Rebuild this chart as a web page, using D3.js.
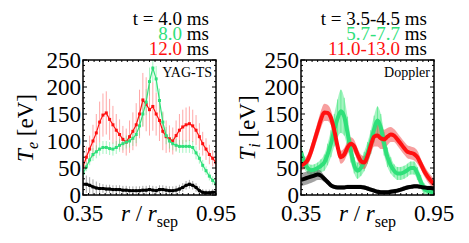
<!DOCTYPE html>
<html>
<head>
<meta charset="utf-8">
<script src="https://cdn.jsdelivr.net/npm/d3@7"></script>
<style>
  body { margin: 0; background: #fff; }
  svg text { font-family: 'Liberation Serif', 'DejaVu Serif', serif; }
</style>
</head>
<body>
<div id="chart"></div>
<script>
// r / r_sep grid (both diagnostics)
var rGrid = [0.35, 0.365, 0.38, 0.395, 0.41, 0.425, 0.44, 0.455, 0.47, 0.485,
  0.50, 0.515, 0.53, 0.545, 0.56, 0.575, 0.59, 0.605, 0.62, 0.635,
  0.65, 0.665, 0.68, 0.695, 0.71, 0.725, 0.74, 0.755, 0.77, 0.785,
  0.80, 0.815, 0.83, 0.845, 0.86, 0.875, 0.89, 0.905, 0.92, 0.935, 0.95];

// YAG-TS electron temperature [eV]
var te4 = [20, 20, 18, 15, 13, 12, 12, 11, 11, 10, 10, 10, 9, 9, 8, 8, 8, 8, 9, 9,
  10, 9, 8, 10, 10, 9, 8, 8, 9, 11, 14, 18, 20, 18, 14, 8, 5, 4, 4, 5, 5];
var te8 = [40, 52, 65, 75, 80, 85, 88, 88, 86, 85, 88, 92, 95, 98, 100, 105, 112, 128, 150, 172,
  210, 235, 215, 175, 135, 110, 100, 95, 92, 90, 90, 90, 90, 88, 78, 68, 55, 45, 35, 27, 20];
var te12 = [52, 70, 85, 100, 115, 135, 148, 152, 140, 130, 120, 112, 103, 98, 108, 118, 130, 150, 176, 168,
  158, 164, 150, 138, 118, 108, 104, 100, 110, 120, 126, 130, 132, 128, 120, 108, 95, 85, 75, 68, 60];
var teErr4 = [16, 16, 15, 14, 12, 10, 8, 8, 8, 8, 8, 8, 8, 8, 8, 8, 8, 8, 8, 8,
  8, 8, 8, 8, 8, 8, 8, 8, 8, 8, 8, 8, 8, 8, 8, 8, 6, 6, 6, 6, 6];
var teErr8 = [8, 8, 10, 12, 12, 12, 12, 12, 12, 12, 12, 12, 12, 12, 12, 14, 16, 18, 22, 24,
  26, 26, 24, 22, 20, 16, 14, 12, 12, 12, 12, 12, 12, 12, 12, 10, 10, 8, 8, 8, 8];
var teErr12 = [15, 20, 25, 30, 35, 38, 40, 40, 38, 35, 30, 28, 25, 25, 30, 35, 40, 45, 50, 50,
  48, 45, 40, 38, 35, 30, 25, 25, 28, 30, 32, 32, 32, 30, 28, 25, 22, 20, 18, 15, 12];

// Doppler ion temperature [eV]
var ti4 = [28, 30, 32, 34, 36, 38, 36, 30, 24, 18, 15, 14, 14, 14, 15, 15, 15, 15, 15, 14,
  12, 10, 8, 6, 5, 5, 5, 6, 7, 8, 10, 12, 14, 15, 16, 16, 15, 14, 13, 13, 12];
var ti7 = [80, 60, 50, 46, 47, 50, 54, 60, 75, 95, 120, 142, 155, 145, 115, 82, 55, 45, 50, 62,
  78, 98, 122, 138, 125, 95, 70, 55, 45, 40, 40, 42, 46, 50, 50, 40, 25, 12, 8, 6, 5];
var ti12 = [55, 58, 65, 80, 100, 120, 140, 153, 152, 143, 120, 90, 70, 75, 88, 95, 90, 75, 63, 60,
  72, 92, 108, 110, 105, 103, 108, 112, 110, 103, 95, 87, 80, 78, 76, 70, 58, 45, 35, 27, 20];
var tiErr4 = [12, 12, 12, 12, 11, 10, 8, 6, 5, 4, 4, 4, 4, 4, 4, 4, 4, 4, 4, 4,
  4, 4, 4, 4, 4, 4, 4, 4, 4, 4, 4, 4, 4, 4, 4, 4, 4, 4, 4, 4, 4];
var tiErr7 = [15, 12, 10, 10, 10, 10, 12, 15, 20, 25, 30, 35, 40, 35, 30, 22, 15, 15, 15, 18,
  20, 22, 25, 26, 25, 22, 18, 15, 12, 12, 12, 12, 12, 12, 12, 12, 12, 10, 8, 6, 5];
var tiErr12 = [10, 10, 10, 12, 14, 15, 16, 16, 15, 14, 12, 12, 12, 12, 12, 12, 12, 12, 12, 12,
  14, 16, 18, 20, 20, 18, 16, 14, 12, 12, 12, 12, 12, 12, 12, 12, 10, 10, 10, 10, 10];

var yTicks = [0, 50, 100, 150, 200, 250];
var xTickLabels = ['0.35', '0.95'];

var black = '#000';
var green = '#2fe07a';
var red = '#ff1010';

var svg = d3.select('#chart').append('svg')
  .attr('width', 469).attr('height', 243);

function drawPanel(opt) {
  var x = d3.scaleLinear().domain([0.35, 0.95]).range([opt.left, opt.left + 133]);
  var y = d3.scaleLinear().domain([0, 250]).range([195, 60]);

  var g = svg.append('g');
  var clipId = 'clip-' + opt.id;
  g.append('clipPath').attr('id', clipId)
    .append('rect')
    .attr('x', x.range()[0]).attr('y', y.range()[1])
    .attr('width', x.range()[1] - x.range()[0])
    .attr('height', y.range()[0] - y.range()[1]);

  var plotG = g.append('g').attr('clip-path', 'url(#' + clipId + ')');

  if (opt.mode === 'ts') {
    // error bars first
    opt.series.forEach(function(s) {
      plotG.append('g').selectAll('line').data(s.values).enter()
        .append('line')
        .attr('x1', function(d, i) { return x(rGrid[i]); })
        .attr('x2', function(d, i) { return x(rGrid[i]); })
        .attr('y1', function(d, i) { return y(d - s.err[i]); })
        .attr('y2', function(d, i) { return y(d + s.err[i]); })
        .attr('stroke', s.barColor)
        .attr('stroke-width', 1);
    });
    opt.series.forEach(function(s) {
      var line = d3.line()
        .x(function(d, i) { return x(rGrid[i]); })
        .y(function(d) { return y(d); });
      plotG.append('path').datum(s.values)
        .attr('d', line)
        .attr('fill', 'none')
        .attr('stroke', s.color)
        .attr('stroke-width', s.width);
      plotG.append('g').selectAll('rect').data(s.values).enter()
        .append('rect')
        .attr('x', function(d, i) { return x(rGrid[i]) - 1.5; })
        .attr('y', function(d) { return y(d) - 1.5; })
        .attr('width', 3).attr('height', 3)
        .attr('fill', s.color);
    });
  } else {
    // shaded bands then thick lines
    opt.series.forEach(function(s) {
      var area = d3.area()
        .curve(d3.curveMonotoneX)
        .x(function(d, i) { return x(rGrid[i]); })
        .y0(function(d, i) { return y(d - s.err[i]); })
        .y1(function(d, i) { return y(d + s.err[i]); });
      plotG.append('path').datum(s.values)
        .attr('d', area)
        .attr('fill', s.bandColor)
        .attr('fill-opacity', s.bandOpacity);
      if (s.stripes) {
        plotG.append('g').selectAll('line').data(s.values).enter()
          .append('line')
          .attr('x1', function(d, i) { return x(rGrid[i]); })
          .attr('x2', function(d, i) { return x(rGrid[i]); })
          .attr('y1', function(d, i) { return y(d - s.err[i]); })
          .attr('y2', function(d, i) { return y(d + s.err[i]); })
          .attr('stroke', s.stripes)
          .attr('stroke-width', 1);
      }
    });
    opt.series.forEach(function(s) {
      var line = d3.line()
        .curve(d3.curveMonotoneX)
        .x(function(d, i) { return x(rGrid[i]); })
        .y(function(d) { return y(d); });
      plotG.append('path').datum(s.values)
        .attr('d', line)
        .attr('fill', 'none')
        .attr('stroke', s.color)
        .attr('stroke-width', s.width)
        .attr('stroke-linejoin', 'round');
    });
  }

  // inner ticks
  var yMinor = d3.range(0, 251, 10);
  var xMinor = d3.range(0.35, 0.951, 0.025);
  var tickG = g.append('g').attr('stroke', '#000').attr('stroke-width', 1);
  yMinor.forEach(function(v) {
    var len = v % 50 === 0 ? 4 : 2;
    tickG.append('line').attr('x1', x.range()[0]).attr('x2', x.range()[0] + len)
      .attr('y1', y(v)).attr('y2', y(v));
    tickG.append('line').attr('x1', x.range()[1]).attr('x2', x.range()[1] - len)
      .attr('y1', y(v)).attr('y2', y(v));
  });
  xMinor.forEach(function(v) {
    tickG.append('line').attr('x1', x(v)).attr('x2', x(v))
      .attr('y1', y.range()[1]).attr('y2', y.range()[1] + 2);
    tickG.append('line').attr('x1', x(v)).attr('x2', x(v))
      .attr('y1', y.range()[0]).attr('y2', y.range()[0] - 2);
  });

  // frame
  g.append('rect')
    .attr('x', x.range()[0]).attr('y', y.range()[1])
    .attr('width', x.range()[1] - x.range()[0])
    .attr('height', y.range()[0] - y.range()[1])
    .attr('fill', 'none')
    .attr('stroke', '#000')
    .attr('stroke-width', 1.5);

  // y tick labels
  g.append('g').selectAll('text').data(yTicks).enter()
    .append('text')
    .attr('x', x.range()[0] - 2)
    .attr('y', function(d) { return y(d) + 8; })
    .attr('text-anchor', 'end')
    .attr('font-size', 23)
    .text(function(d) { return d; });

  // x tick labels
  g.append('g').selectAll('text').data(xTickLabels).enter()
    .append('text')
    .attr('x', function(d) { return x(+d); })
    .attr('y', 221)
    .attr('text-anchor', 'middle')
    .attr('font-size', 23)
    .text(function(d) { return d; });

  // x title
  var xt = g.append('text')
    .attr('x', (x.range()[0] + x.range()[1]) / 2)
    .attr('y', 221)
    .attr('text-anchor', 'middle')
    .attr('font-size', 23);
  xt.append('tspan').attr('font-style', 'italic').text('r');
  xt.append('tspan').text(' / ');
  xt.append('tspan').attr('font-style', 'italic').text('r');
  xt.append('tspan').attr('font-size', 16).attr('dy', 6).text('sep');

  // y title
  var yt = g.append('text')
    .attr('transform', 'translate(' + opt.titleX + ',128) rotate(-90)')
    .attr('text-anchor', 'middle')
    .attr('font-size', 23);
  yt.append('tspan').attr('font-style', 'italic').text('T');
  yt.append('tspan').attr('font-style', 'italic').attr('font-size', 16).attr('dy', 5).text(opt.sub);
  yt.append('tspan').attr('dy', -5).text(' [eV]');

  // diagnostic tag
  g.append('text')
    .attr('x', x.range()[1] - 4)
    .attr('y', 77)
    .attr('text-anchor', 'end')
    .attr('font-size', 14)
    .text(opt.tag);

  // legend (time slices)
  opt.legend.forEach(function(l, i) {
    var t = g.append('text')
      .attr('x', opt.legendX)
      .attr('y', 25 + i * 15)
      .attr('text-anchor', 'end')
      .attr('font-size', 19);
    t.append('tspan').attr('fill', l.color).text(l.label);
    t.append('tspan').attr('fill', '#000').text(' ms');
  });
}

drawPanel({
  id: 'te', left: 83, titleX: 33, sub: 'e', tag: 'YAG-TS', mode: 'ts', legendX: 209,
  legend: [
    {label: 't = 4.0', color: black},
    {label: '8.0', color: green},
    {label: '12.0', color: red}
  ],
  series: [
    {values: te12, err: teErr12, color: red, barColor: 'rgba(255,60,60,0.45)', width: 1.2},
    {values: te8, err: teErr8, color: green, barColor: 'rgba(60,230,120,0.45)', width: 1.2},
    {values: te4, err: teErr4, color: black, barColor: 'rgba(0,0,0,0.35)', width: 2.5}
  ]
});

drawPanel({
  id: 'ti', left: 301, titleX: 255, sub: 'i', tag: 'Doppler', mode: 'band', legendX: 427,
  legend: [
    {label: 't = 3.5-4.5', color: black},
    {label: '5.7-7.7', color: green},
    {label: '11.0-13.0', color: red}
  ],
  series: [
    {values: ti7, err: tiErr7, color: green, bandColor: '#7ff0a8', bandOpacity: 0.7,
      stripes: 'rgba(60,230,120,0.6)', width: 4},
    {values: ti12, err: tiErr12, color: red, bandColor: '#f04040', bandOpacity: 0.5, width: 4},
    {values: ti4, err: tiErr4, color: black, bandColor: '#555', bandOpacity: 0.55, width: 4}
  ]
});
</script>
</body>
</html>
